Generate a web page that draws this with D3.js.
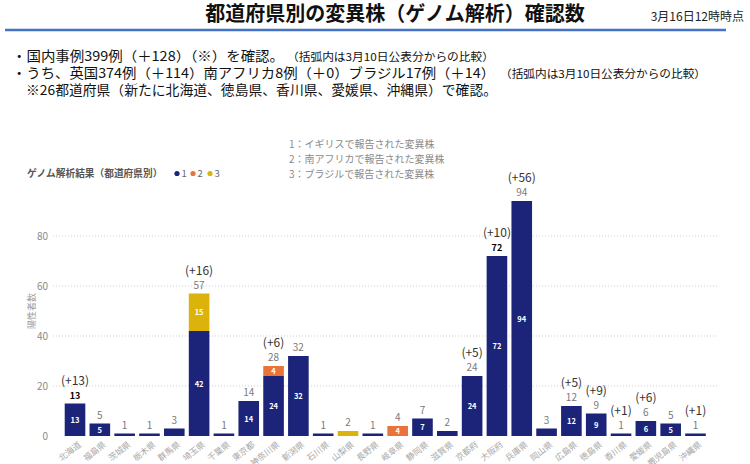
<!DOCTYPE html>
<html><head><meta charset="utf-8">
<script src="https://cdn.jsdelivr.net/npm/d3@7"></script>
<style>
html,body{margin:0;padding:0;background:#fff;}
svg{display:block;font-family:"Noto Sans CJK JP","Noto Sans",sans-serif;}
</style></head>
<body><svg id="c" width="750" height="464"></svg>
<script>
const categories = ["北海道","福島県","茨城県","栃木県","群馬県","埼玉県","千葉県","東京都","神奈川県","新潟県","石川県","山梨県","長野県","岐阜県","静岡県","滋賀県","京都府","大阪府","兵庫県","岡山県","広島県","徳島県","香川県","愛媛県","鹿児島県","沖縄県"];
const ukValues     = [13,5,1,1,3,42,1,14,24,32,1,0,1,0,7,2,24,72,94,3,12,9,1,6,5,1];
const saValues     = [0,0,0,0,0,0,0,0,4,0,0,0,0,4,0,0,0,0,0,0,0,0,0,0,0,0];
const brValues     = [0,0,0,0,0,15,0,0,0,0,0,2,0,0,0,0,0,0,0,0,0,0,0,0,0,0];
const deltas       = [13,null,null,null,null,16,null,null,6,null,null,null,null,null,null,null,5,10,56,null,5,9,1,6,null,1];
const seriesNames  = ["1","2","3"];
const yTicks       = [0,20,40,60,80];
const legendLines  = ["1：イギリスで報告された変異株","2：南アフリカで報告された変異株","3：ブラジルで報告された変異株"];

const colors = ["#1b2478","#e9733a","#dbb30b"];
const svg = d3.select("#c");

// Header
svg.append("text").attr("x",395).attr("y",21).attr("text-anchor","middle")
  .attr("font-size",20).attr("font-weight","bold").attr("fill","#111")
  .text("都道府県別の変異株（ゲノム解析）確認数");
svg.append("text").attr("x",744).attr("y",21).attr("text-anchor","end")
  .attr("font-size",12).attr("fill","#222").text("3月16日12時時点");
svg.append("line").attr("x1",5).attr("x2",726).attr("y1",30).attr("y2",30)
  .attr("stroke","#4472c4").attr("stroke-width",2.5);

function line(t, x0, x1, yb, fs){
  svg.append("text").attr("x",x0).attr("y",yb).attr("font-size",fs).attr("fill","#111")
    .attr("textLength",x1-x0).attr("lengthAdjust","spacingAndGlyphs").text(t);
}
line("・国内事例399例（＋128）（※）を確認。",12,284,61,13.5);
line("（括弧内は3月10日公表分からの比較）",287,494,60.5,11);
line("・うち、英国374例（＋114）南アフリカ8例（＋0）ブラジル17例（＋14）",12,495,78,13.5);
line("（括弧内は3月10日公表分からの比較）",500,706,77.5,11);
line("※26都道府県（新たに北海道、徳島県、香川県、愛媛県、沖縄県）で確認。",26,497,95,13.5);

// Legend
svg.append("text").attr("x",27).attr("y",176.5).attr("font-size",9.7).attr("font-weight","bold")
  .attr("fill","#555").text("ゲノム解析結果（都道府県別）");
const lgX = [177,193,210];
seriesNames.forEach((s,i)=>{
  svg.append("circle").attr("cx",lgX[i]).attr("cy",173.5).attr("r",2.6).attr("fill",colors[i]);
  svg.append("text").attr("x",lgX[i]+4.5).attr("y",177).attr("font-size",9.5).attr("fill","#666").text(s);
});
legendLines.forEach((t,i)=>{
  svg.append("text").attr("x",289).attr("y",148+i*15).attr("font-size",10).attr("fill","#8a8a8a").text(t);
});

// Scales
const x = d3.scaleBand().domain(categories).range([62.6,707.9]).paddingInner(0.17).paddingOuter(0.085);
const y = d3.scaleLinear().domain([0,100]).range([436,186]);

// Grid
svg.append("g").selectAll("line").data(yTicks.filter(d=>d>0)).join("line")
  .attr("x1",53).attr("x2",717).attr("y1",d=>y(d)).attr("y2",d=>y(d))
  .attr("stroke","#cfcfcf").attr("stroke-width",1).attr("stroke-dasharray","1,2");

// Y axis
const yAxis = d3.axisLeft(y).tickValues(yTicks).tickSize(0).tickPadding(0);
const yg = svg.append("g").attr("transform","translate(48,0)").call(yAxis);
yg.select(".domain").remove();
yg.selectAll("text").attr("font-size",10).attr("fill","#8a8a8a")
  .attr("font-family","'Noto Sans CJK JP',sans-serif").attr("dy","0.35em");
svg.append("text").attr("transform","translate(35,311) rotate(-90)").attr("text-anchor","middle")
  .attr("font-size",9).attr("fill","#9a9a9a").text("陽性者数");

// X axis labels
const xAxis = d3.axisBottom(x).tickSize(0).tickPadding(0);
const xg = svg.append("g").attr("transform","translate(0,441)").call(xAxis);
xg.select(".domain").remove();
xg.selectAll("text").attr("font-size",8.5).attr("fill","#a8a8a8")
  .attr("font-family","'Noto Sans CJK JP',sans-serif")
  .attr("text-anchor","end").attr("dy","0.7em")
  .attr("transform","translate(3,0) rotate(-38)");

// Stacked data
const rows = categories.map((c,i)=>({cat:c, s0:ukValues[i], s1:saValues[i], s2:brValues[i]}));
const stack = d3.stack().keys(["s0","s1","s2"])(rows);
const gBars = svg.append("g");
stack.forEach((layer,li)=>{
  gBars.selectAll(null).data(layer.filter(d=>d[1]-d[0]>0)).join("rect")
    .attr("x",d=>x(d.data.cat)).attr("width",x.bandwidth())
    .attr("y",d=>y(d[1])).attr("height",d=>y(d[0])-y(d[1]))
    .attr("fill",colors[li]);
  gBars.selectAll(null).data(layer.filter(d=>d[1]-d[0]>=4)).join("text")
    .attr("x",d=>x(d.data.cat)+x.bandwidth()/2)
    .attr("y",d=>(y(d[0])+y(d[1]))/2+3)
    .attr("text-anchor","middle").attr("font-size",7.5).attr("font-weight","bold")
    .attr("fill","#fff").text(d=>d[1]-d[0]);
});

// Totals
const totals = categories.map((c,i)=>ukValues[i]+saValues[i]+brValues[i]);
const boldCats = ["北海道","大阪府"];
svg.append("g").selectAll("text").data(categories).join("text")
  .attr("x",c=>x(c)+x.bandwidth()/2)
  .attr("y",(c,i)=>y(totals[i])-5)
  .attr("text-anchor","middle")
  .attr("font-size",c=>boldCats.includes(c)?9:10)
  .attr("font-weight",c=>boldCats.includes(c)?"bold":"normal")
  .attr("fill",c=>boldCats.includes(c)?"#000":"#7a7a7a")
  .text((c,i)=>totals[i]);

// Deltas
svg.append("g").selectAll("text").data(categories.filter((c,i)=>deltas[i]!==null)).join("text")
  .attr("x",c=>x(c)+x.bandwidth()/2)
  .attr("y",c=>y(totals[categories.indexOf(c)])-19)
  .attr("text-anchor","middle").attr("font-size",12).attr("fill","#333")
  .text(c=>"(+"+deltas[categories.indexOf(c)]+")");
</script></body></html>
